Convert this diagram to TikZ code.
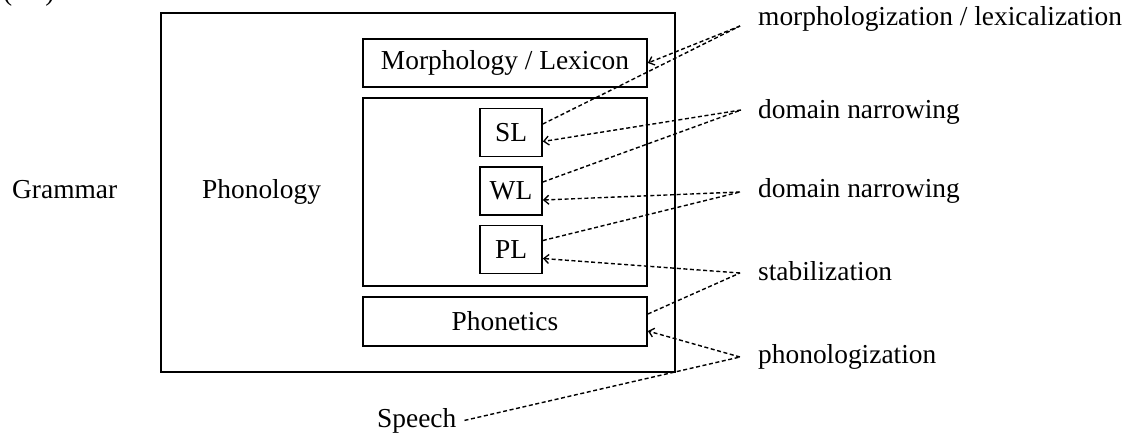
\documentclass[tikz,border=0pt]{standalone}
\usepackage{fontspec}
\setmainfont{Liberation Serif}
\usetikzlibrary{arrows.meta}
\tikzset{
  lbl/.style={font=\fontsize{27.4}{32}\selectfont, inner sep=0pt},
  box/.style={draw=black, line width=1.7pt, inner sep=0pt,
              font=\fontsize{27.4}{32}\selectfont},
  link/.style={line width=1.4pt, dash pattern=on 4pt off 2.6pt},
  feed/.style={link, -{Straight Barb[length=5pt,width=9pt,line width=1.3pt]}},
}
\begin{document}
\begin{tikzpicture}[x=1pt,y=-1pt]
\useasboundingbox (0,0) rectangle (1128,432);
\clip (0,0) rectangle (1128,432);

% panel tag, mostly above the frame
\node[lbl, anchor=base west] (tag) at (3,0) {(\hspace{33pt})};

% left-hand labels
\node[lbl, anchor=base west] (grammar) at (12,198) {Grammar};
\node[lbl, anchor=base west] (phonology) at (202,198) {Phonology};

% boxes
\node[box, minimum width=514pt, minimum height=359pt] (phon) at (418,192.5) {};
\node[box, minimum width=284pt, minimum height=48pt] (morph) at (505,63) {Morphology / Lexicon};
\node[box, minimum width=284pt, minimum height=188pt] (levels) at (505,192) {};
\node[box, minimum width=62pt, minimum height=48pt] (SL) at (511,132.5) {SL};
\node[box, minimum width=62pt, minimum height=48pt] (WL) at (511,191) {WL};
\node[box, minimum width=62pt, minimum height=48pt] (PL) at (511,249.5) {PL};
\node[box, minimum width=284pt, minimum height=49pt] (phonetics) at (505,321.5) {Phonetics};

% speech
\node[lbl, inner xsep=8pt, anchor=base west] (speech) at (369,427) {Speech};

% process labels
\node[lbl, anchor=base west] (lmorph) at (758,25) {morphologization / lexicalization};
\node[lbl, anchor=base west] (ldom1) at (758,118) {domain narrowing};
\node[lbl, anchor=base west] (ldom2) at (758,197) {domain narrowing};
\node[lbl, anchor=base west] (lstab) at (758,280) {stabilization};
\node[lbl, anchor=base west] (lphon) at (758,363) {phonologization};

% meeting points in front of the process labels
\coordinate (cM) at (740,26);
\coordinate (cD1) at (741,110);
\coordinate (cD2) at (740,192);
\coordinate (cS) at (740,273);
\coordinate (cP) at (740,357);

% connectors
\draw[link] ([yshift=8.5pt]SL.east) -- (cM);
\draw[feed] (cM) -- (morph.east);
\draw[link] ([yshift=9pt]WL.east) -- (cD1);
\draw[feed] (cD1) -- ([yshift=-9pt]SL.east);
\draw[link] ([yshift=9pt]PL.east) -- (cD2);
\draw[feed] (cD2) -- ([yshift=-9pt]WL.east);
\draw[link] ([yshift=7.5pt]phonetics.east) -- (cS);
\draw[feed] (cS) -- ([yshift=-9pt]PL.east);
\draw[link] (speech.east) -- (cP);
\draw[feed] (cP) -- ([yshift=-9.5pt]phonetics.east);
\end{tikzpicture}
\end{document}
